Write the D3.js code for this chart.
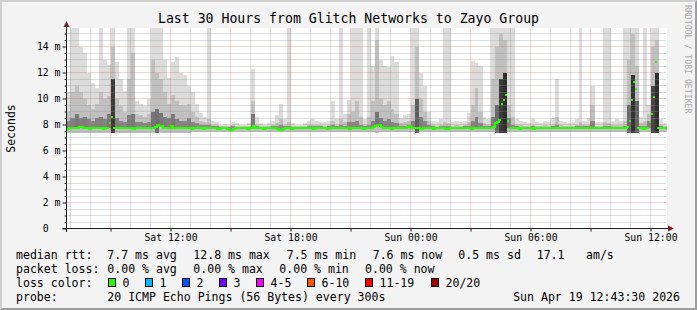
<!DOCTYPE html>
<html>
<head>
<meta charset="utf-8">
<script src="https://cdn.jsdelivr.net/npm/d3@7"></script>
<style>
  html, body { margin: 0; padding: 0; background: #f3f3f3; }
  svg { display: block; font-family: "DejaVu Sans Mono", monospace; }
  text { white-space: pre; }
</style>
</head>
<body>
<svg id="chart" width="697" height="310"></svg>
<script>
// ---- data ----
// smoke columns: one value every 12 minutes, starting Sat 06:48
var startTime = new Date(2026, 3, 18, 6, 48)
var endTime = new Date(2026, 3, 19, 12, 48)
var smokeStepMin = 12
var medianStepMin = 6

var smokeTop = [
  10.5, 15.4, 15.4, 14.0, 13.5, 12.0, 11.2, 10.8, 15.4, 13.0,
  12.6, 15.4, 12.8, 11.5, 10.6, 15.4, 15.4, 9.8, 9.6, 9.4,
  10.0, 15.4, 15.4, 15.4, 13.0, 11.6, 12.8, 13.2, 12.0, 11.8,
  11.0, 10.5, 9.6, 8.9, 8.6, 15.4, 8.3, 8.2, 8.0, 8.05,
  8.0, 8.2, 8.1, 8.0, 8.0, 8.1, 12.3, 8.6, 8.1, 8.0,
  8.1, 8.3, 8.7, 9.6, 8.4, 15.4, 8.1, 8.0, 8.0, 8.1,
  8.3, 8.4, 8.3, 8.2, 8.2, 8.3, 9.8, 8.4, 15.4, 8.8,
  9.9, 15.4, 15.4, 15.4, 8.4, 15.4, 12.5, 15.4, 13.0, 12.5,
  12.4, 13.3, 12.8, 8.5, 8.7, 8.8, 15.4, 15.4, 12.0, 11.0,
  9.0, 8.3, 8.2, 8.4, 15.4, 15.4, 8.2, 8.3, 8.2, 8.3,
  8.9, 12.9, 12.7, 12.5, 8.6, 8.4, 15.4, 15.4, 15.4, 15.4,
  15.4, 15.4, 8.4, 8.3, 8.2, 8.1, 8.4, 8.2, 8.1, 8.3,
  8.2, 8.5, 11.5, 8.3, 8.2, 8.1, 8.2, 8.4, 15.4, 8.3,
  8.5, 11.0, 8.2, 8.2, 15.4, 15.4, 8.3, 8.4, 8.3, 15.4,
  15.4, 15.4, 15.4, 8.6, 15.4, 9.5, 15.4, 15.4, 8.4, 8.1
]

var smokeMid = [
  9.0, 10.5, 11.0, 10.5, 10.0, 9.5, 9.2, 9.6, 10.5, 10.0,
  10.2, 14.0, 10.0, 9.4, 9.0, 11.5, 13.5, 8.8, 8.7, 8.6,
  8.8, 13.0, 12.0, 11.5, 10.5, 9.6, 10.3, 9.8, 9.5, 9.4,
  9.6, 9.0, 8.6, 8.3, 8.2, 8.4, 8.0, 7.95, 7.9, 7.9,
  7.9, 7.95, 7.9, 7.9, 7.9, 7.9, 9.8, 8.0, 7.9, 7.9,
  7.9, 7.95, 8.1, 8.4, 8.0, 8.2, 7.9, 7.9, 7.9, 7.9,
  8.0, 8.0, 7.95, 7.95, 7.9, 7.95, 8.3, 8.0, 8.4, 8.2,
  8.8, 9.0, 9.8, 8.6, 8.0, 8.6, 9.8, 14.5, 10.0, 9.5,
  9.8, 9.2, 8.8, 8.1, 8.2, 8.3, 9.5, 14.0, 10.0, 9.0,
  8.3, 7.95, 7.9, 8.0, 8.2, 8.1, 7.9, 7.95, 7.9, 7.95,
  8.2, 9.5, 10.8, 9.0, 8.1, 8.0, 11.5, 14.0, 15.0, 14.5,
  9.5, 8.6, 8.0, 7.95, 7.9, 7.9, 8.0, 7.9, 7.9, 7.95,
  7.9, 8.0, 8.6, 7.95, 7.9, 7.9, 7.9, 8.0, 8.2, 8.0,
  8.0, 9.5, 7.9, 7.9, 8.2, 8.1, 7.95, 8.0, 7.95, 8.3,
  13.0, 15.0, 12.5, 8.1, 8.3, 8.8, 14.0, 14.5, 8.0, 7.9
]

var smokeCore = [
  8.3, 8.5, 8.8, 8.5, 8.6, 8.4, 8.3, 8.5, 8.6, 8.4,
  8.8, 11.5, 8.5, 8.3, 8.2, 8.7, 8.8, 8.2, 8.2, 8.1,
  8.2, 9.0, 9.2, 8.9, 8.6, 8.5, 8.8, 8.4, 8.3, 8.3,
  8.5, 8.2, 8.1, 8.0, 7.95, 8.0, 7.85, 7.85, 7.8, 7.8,
  7.8, 7.85, 7.8, 7.8, 7.8, 7.8, 8.8, 7.85, 7.8, 7.8,
  7.8, 7.85, 7.9, 8.0, 7.85, 7.9, 7.8, 7.8, 7.8, 7.8,
  7.85, 7.85, 7.85, 7.85, 7.8, 7.85, 7.95, 7.85, 8.0, 7.9,
  8.2, 8.2, 8.3, 8.0, 7.85, 8.0, 8.3, 9.0, 8.5, 8.3,
  8.4, 8.2, 8.1, 7.9, 7.9, 8.0, 8.3, 10.0, 8.6, 8.3,
  8.0, 7.85, 7.8, 7.85, 7.9, 7.85, 7.8, 7.8, 7.8, 7.85,
  7.9, 8.3, 8.6, 8.1, 7.9, 7.85, 8.6, 9.5, 11.5, 12.0,
  8.5, 8.0, 7.85, 7.8, 7.8, 7.8, 7.85, 7.8, 7.8, 7.8,
  7.8, 7.85, 8.0, 7.8, 7.8, 7.8, 7.8, 7.85, 7.9, 7.85,
  7.85, 8.3, 7.8, 7.8, 7.9, 7.85, 7.8, 7.8, 7.8, 7.9,
  9.5, 11.8, 9.8, 7.9, 7.9, 8.3, 11.0, 12.0, 7.85, 7.8
]

var smokeLow = [
  7.35, 7.35, 7.35, 7.35, 7.35, 7.35, 7.35, 7.35, 7.35, 7.35,
  7.35, 7.35, 7.35, 7.35, 7.35, 7.35, 7.35, 7.35, 7.35, 7.35,
  7.35, 7.35, 7.35, 7.35, 7.35, 7.35, 7.35, 7.35, 7.35, 7.35,
  7.35, 7.4, 7.4, 7.45, 7.45, 7.4, 7.45, 7.45, 7.45, 7.45,
  7.45, 7.45, 7.45, 7.45, 7.45, 7.45, 7.4, 7.45, 7.45, 7.45,
  7.45, 7.45, 7.45, 7.45, 7.45, 7.4, 7.45, 7.45, 7.45, 7.45,
  7.45, 7.45, 7.45, 7.45, 7.45, 7.45, 7.45, 7.45, 7.4, 7.45,
  7.4, 7.4, 7.4, 7.4, 7.45, 7.4, 7.4, 7.35, 7.4, 7.4,
  7.4, 7.4, 7.45, 7.45, 7.45, 7.45, 7.4, 7.35, 7.4, 7.45,
  7.45, 7.45, 7.45, 7.45, 7.45, 7.45, 7.45, 7.45, 7.45, 7.45,
  7.45, 7.4, 7.4, 7.4, 7.45, 7.45, 7.4, 7.35, 7.35, 7.35,
  7.4, 7.45, 7.45, 7.45, 7.45, 7.45, 7.45, 7.45, 7.45, 7.45,
  7.45, 7.45, 7.4, 7.45, 7.45, 7.45, 7.45, 7.45, 7.4, 7.45,
  7.45, 7.4, 7.45, 7.45, 7.4, 7.4, 7.45, 7.45, 7.45, 7.4,
  7.35, 7.35, 7.35, 7.45, 7.4, 7.45, 7.35, 7.35, 7.45, 7.45
]

// median rtt, one value every 6 minutes
var medianRtt = [
  7.65, 7.7, 7.7, 7.75, 7.7, 7.7, 7.8, 7.8, 7.75, 7.7, 7.7, 7.65, 7.7, 7.7, 7.75, 7.7, 7.7, 7.7, 7.65, 7.7,
  7.75, 8.1, 8.55, 7.7, 7.7, 7.75, 7.7, 7.7, 7.7, 7.75, 7.7, 7.7, 7.7, 7.65, 7.7, 7.7, 7.75, 7.7, 7.7, 7.7,
  7.7, 7.75, 7.7, 7.7, 7.8, 7.95, 7.9, 7.85, 7.75, 7.7, 7.7, 7.75, 7.9, 7.75, 7.7, 7.7, 7.7, 7.75, 7.7, 7.7,
  7.7, 7.7, 7.65, 7.7, 7.7, 7.7, 7.75, 7.7, 7.65, 7.7, 7.7, 7.7, 7.75, 7.7, 7.7, 7.65, 7.65, 7.7, 7.7, 7.7,
  7.65, 7.6, 7.6, 7.65, 7.7, 7.7, 7.7, 7.75, 7.7, 7.7, 7.65, 7.7, 7.75, 7.9, 7.75, 7.7, 7.7, 7.7, 7.65, 7.7,
  7.7, 7.7, 7.75, 7.7, 7.7, 7.65, 7.6, 7.6, 7.65, 7.7, 7.7, 7.7, 7.65, 7.7, 7.7, 7.7, 7.75, 7.7, 7.7, 7.7,
  7.7, 7.7, 7.7, 7.65, 7.7, 7.7, 7.7, 7.75, 7.7, 7.7, 7.65, 7.7, 7.7, 7.7, 7.7, 7.75, 7.7, 7.7, 7.7, 7.7,
  7.7, 7.65, 7.7, 7.75, 7.7, 7.7, 7.7, 7.7, 7.65, 7.7, 7.7, 7.75, 7.75, 7.8, 7.85, 7.95, 8.0, 7.8, 7.7, 7.7,
  7.7, 7.7, 7.65, 7.7, 7.7, 7.7, 7.75, 7.7, 7.7, 7.7, 7.8, 7.85, 7.75, 7.7, 7.7, 7.7, 7.7, 7.65, 7.7, 7.7,
  7.7, 7.7, 7.7, 7.65, 7.7, 7.7, 7.75, 7.7, 7.7, 7.65, 7.65, 7.7, 7.7, 7.7, 7.7, 7.7, 7.75, 7.7, 7.7, 7.7,
  7.7, 7.7, 7.65, 7.7, 7.7, 7.7, 7.7, 7.75, 7.7, 7.7, 7.7, 7.7, 7.75, 7.8, 8.1, 8.2, 8.35, 9.6, 9.9, 10.3,
  8.3, 7.75, 7.7, 7.7, 7.7, 7.7, 7.65, 7.7, 7.7, 7.7, 7.7, 7.7, 7.7, 7.65, 7.7, 7.7, 7.7, 7.7, 7.7, 7.75,
  7.7, 7.7, 7.7, 7.7, 7.7, 7.75, 7.7, 7.7, 7.7, 7.7, 7.7, 7.7, 7.7, 7.7, 7.7, 7.7, 7.75, 7.75, 7.75, 7.7,
  7.7, 7.7, 7.7, 7.7, 7.7, 7.7, 7.7, 7.7, 7.7, 7.7, 7.7, 7.7, 7.7, 7.7, 7.7, 7.7, 7.7, 7.7, 7.7, 7.75,
  7.8, 8.3, 9.9, 11.3, 10.7, 7.75, 7.7, 7.7, 7.65, 7.7, 7.75, 8.2, 8.8, 10.1, 12.8, 7.75, 7.7, 7.7, 7.7, 7.7
]

var yTicks = [0, 2, 4, 6, 8, 10, 12, 14]

var rttLabel = 'median rtt:'
var rttStats = ['7.7 ms avg', '12.8 ms max', '7.5 ms min', '7.6 ms now', '0.5 ms sd', '17.1', 'am/s']
var lossLabel = 'packet loss:'
var lossStats = ['0.00 % avg', '0.00 % max', '0.00 % min', '0.00 % now']
var colorLabel = 'loss color:'
var lossNames = ['0', '1', '2', '3', '4-5', '6-10', '11-19', '20/20']
var lossColors = ['#26ff00', '#00b8ff', '#0059ff', '#7400ff', '#ff00ff', '#ff5500', '#ff0000', '#a10000']
var probeLabel = 'probe:'
var probeText = '20 ICMP Echo Pings (56 Bytes) every 300s'
var stampText = 'Sun Apr 19 12:43:30 2026'
var titleText = 'Last 30 Hours from Glitch Networks to Zayo Group'

// ---- layout ----
var W = 697, H = 310
var pL = 66.5, pR = 666.5, pT = 28.5, pB = 228.5
var svg = d3.select('#chart')

var x = d3.scaleTime().domain([startTime, endTime]).range([pL, pR])
var y = d3.scaleLinear().domain([0, 200 / 13]).range([pB, pT])
// dense core gets darker the higher it climbs
var coreShade = d3.scaleLinear().domain([8, 12]).range(['#8c8c8c', '#2e2e2e']).clamp(true)

// background + 3d shading
svg.append('rect').attr('width', W).attr('height', H).attr('fill', '#f3f3f3')
svg.append('path').attr('fill', '#cfcfcf')
  .attr('d', 'M0,0H' + W + 'L' + (W - 2) + ',2H2V' + (H - 2) + 'L0,' + H + 'Z')
svg.append('path').attr('fill', '#9e9e9e')
  .attr('d', 'M' + W + ',' + H + 'H0L2,' + (H - 2) + 'H' + (W - 2) + 'V2L' + W + ',0Z')

svg.append('rect')
  .attr('x', 67).attr('y', 28).attr('width', 600).attr('height', 200)
  .attr('fill', '#ffffff')

svg.append('clipPath').attr('id', 'plotclip')
  .append('rect').attr('x', 67).attr('y', 28).attr('width', 600).attr('height', 201)

// ---- smoke ----
var plot = svg.append('g').attr('clip-path', 'url(#plotclip)')
function colX(i) { return Math.round(x(d3.timeMinute.offset(startTime, i * smokeStepMin))) }
function colMedian(i) { return Math.min(medianRtt[2 * i], medianRtt[2 * i + 1]) }
function coreLow(d, i) { return d > 9 ? smokeLow[i] : colMedian(i) }

var layers = [
  { values: smokeTop, fill: function () { return '#dcdcdc' }, low: function (d, i) { return smokeLow[i] } },
  { values: smokeMid, fill: function () { return '#c0c0c0' }, low: function (d, i) { return smokeLow[i] } },
  { values: smokeCore, fill: function (d) { return coreShade(d) }, low: coreLow }
]
layers.forEach(function (layer) {
  plot.append('g').selectAll('rect')
    .data(layer.values)
    .enter()
    .append('rect')
    .attr('x', function (d, i) { return colX(i) })
    .attr('width', function (d, i) { return colX(i + 1) - colX(i) })
    .attr('y', function (d) { return Math.round(y(d)) })
    .attr('height', function (d, i) { return Math.max(0, Math.round(y(layer.low(d, i))) - Math.round(y(d))) })
    .attr('fill', layer.fill)
})

// ---- grid ----
var grid = svg.append('g')
var hours = d3.timeHour.range(d3.timeHour.ceil(startTime), endTime)
var minorY = d3.range(0.5, 15.3, 0.5).filter(function (v) { return v % 2 !== 0 })
var minorCol = 'rgba(143,143,143,0.6)', majorCol = 'rgba(222,80,80,0.5)'

grid.selectAll('.hminor')
  .data(minorY)
  .enter().append('line')
  .attr('x1', pL).attr('x2', pR)
  .attr('y1', function (d) { return Math.floor(y(d)) + 0.5 })
  .attr('y2', function (d) { return Math.floor(y(d)) + 0.5 })
  .attr('stroke', minorCol).attr('stroke-dasharray', '1,1')

grid.selectAll('.vminor')
  .data(hours.filter(function (d) { return d.getHours() % 3 !== 0 }))
  .enter().append('line')
  .attr('x1', function (d) { return x(d) }).attr('x2', function (d) { return x(d) })
  .attr('y1', pT).attr('y2', pB)
  .attr('stroke', minorCol).attr('stroke-dasharray', '1,1')

grid.selectAll('.hmajor')
  .data(yTicks.slice(1))
  .enter().append('line')
  .attr('x1', pL).attr('x2', pR)
  .attr('y1', function (d) { return Math.floor(y(d)) + 0.5 })
  .attr('y2', function (d) { return Math.floor(y(d)) + 0.5 })
  .attr('stroke', majorCol).attr('stroke-dasharray', '1,1')

grid.selectAll('.vmajor')
  .data(hours.filter(function (d) { return d.getHours() % 3 === 0 }))
  .enter().append('line')
  .attr('x1', function (d) { return x(d) }).attr('x2', function (d) { return x(d) })
  .attr('y1', pT).attr('y2', pB)
  .attr('stroke', majorCol).attr('stroke-dasharray', '1,1')

// ---- median line (green, broken on big jumps) ----
var medPts = medianRtt.map(function (v, j) {
  return { t: d3.timeMinute.offset(startTime, j * medianStepMin), v: v }
})
var segs = [], cur = []
medPts.forEach(function (p) {
  if (cur.length && Math.abs(p.v - cur[cur.length - 1].v) > 0.3) { segs.push(cur); cur = [] }
  cur.push(p)
})
segs.push(cur)
var medLine = d3.line()
  .x(function (d) { return Math.round(x(d.t)) })
  .y(function (d) { return Math.round(y(d.v)) })
  .curve(d3.curveStepAfter)
plot.selectAll('.median')
  .data(segs)
  .enter().append('path')
  .attr('d', function (s) {
    var last = s[s.length - 1]
    return medLine(s.concat([{ t: d3.timeMinute.offset(last.t, medianStepMin), v: last.v }]))
  })
  .attr('fill', 'none')
  .attr('stroke', '#26ff00')
  .attr('stroke-width', 2)

// ---- axes ----
var axisCol = '#1f1f1f'
svg.append('g').attr('transform', 'translate(' + pL + ',0)')
  .call(d3.axisLeft(y).tickValues(yTicks).tickSize(4).tickPadding(2)
    .tickFormat(function (d) { return d === 0 ? ' 0  ' : d3.format('2d')(d) + ' m' }))
svg.append('g').attr('transform', 'translate(' + pL + ',0)')
  .call(d3.axisLeft(y).tickValues(minorY).tickSize(2).tickFormat(''))

svg.append('g').attr('transform', 'translate(0,' + pB + ')')
  .call(d3.axisBottom(x).tickValues(hours.filter(function (d) { return d.getHours() % 3 === 0 }))
    .tickSize(3).tickFormat(''))
svg.append('g').attr('transform', 'translate(0,' + pB + ')')
  .call(d3.axisBottom(x).tickValues(hours.filter(function (d) { return d.getHours() % 6 === 0 }))
    .tickSize(0).tickPadding(6).tickFormat(d3.timeFormat('%a %H:%M')))

svg.selectAll('.domain').remove()
svg.selectAll('.tick line').attr('stroke', axisCol)
svg.selectAll('.tick text')
  .attr('font-family', '"DejaVu Sans Mono", monospace')
  .attr('font-size', '9.8px')
  .attr('fill', '#000')

// axis lines + arrows
svg.append('line').attr('x1', pL).attr('x2', pL).attr('y1', pB + 3.5).attr('y2', 26)
  .attr('stroke', axisCol)
svg.append('line').attr('x1', pL - 4).attr('x2', 669).attr('y1', pB).attr('y2', pB)
  .attr('stroke', axisCol)
svg.append('path').attr('fill', '#801f1f')
  .attr('d', 'M' + pL + ',21L' + (pL - 3) + ',27H' + (pL + 3) + 'Z')
svg.append('path').attr('fill', '#801f1f')
  .attr('d', 'M674,' + pB + 'L668,' + (pB - 3) + 'V' + (pB + 3) + 'Z')

// ---- titles ----
svg.append('text').attr('x', 348.5).attr('y', 23)
  .attr('text-anchor', 'middle').attr('font-size', '13.2px').text(titleText)
svg.append('text').attr('transform', 'translate(15,128.5) rotate(-90)')
  .attr('text-anchor', 'middle').attr('font-size', '11.5px').text('Seconds')
svg.append('text').attr('transform', 'translate(684.5,5) rotate(90)')
  .attr('font-size', '8.2px').attr('fill', '#a8a8a8').text('RRDTOOL / TOBI OETIKER')

// ---- legend ----
var legend = svg.append('g').attr('font-size', '11.55px').attr('fill', '#000')
var rows = [258.5, 272.5, 286.5, 300.5]
var statX = [107.3, 193.3, 286.7, 372.7, 458.3, 536.7, 586]
var lossX = [107.3, 193.3, 279.3, 365]
var boxX = [108.5, 145.5, 182.5, 219.5, 256.5, 307.5, 365.5, 431.5]

legend.append('text').attr('x', 16).attr('y', rows[0]).text(rttLabel)
legend.selectAll('.rtt').data(rttStats).enter().append('text')
  .attr('x', function (d, i) { return statX[i] }).attr('y', rows[0]).text(function (d) { return d })

legend.append('text').attr('x', 16).attr('y', rows[1]).text(lossLabel)
legend.selectAll('.loss').data(lossStats).enter().append('text')
  .attr('x', function (d, i) { return lossX[i] }).attr('y', rows[1]).text(function (d) { return d })

legend.append('text').attr('x', 16).attr('y', rows[2]).text(colorLabel)
legend.selectAll('.lbox').data(lossColors).enter().append('rect')
  .attr('x', function (d, i) { return boxX[i] }).attr('y', 278.5)
  .attr('width', 7).attr('height', 8)
  .attr('fill', function (d) { return d }).attr('stroke', '#000')
legend.selectAll('.lname').data(lossNames).enter().append('text')
  .attr('x', function (d, i) { return boxX[i] + 14 }).attr('y', rows[2]).text(function (d) { return d })

legend.append('text').attr('x', 16).attr('y', rows[3]).text(probeLabel)
legend.append('text').attr('x', 107.3).attr('y', rows[3]).text(probeText)
legend.append('text').attr('x', 680).attr('y', rows[3]).attr('text-anchor', 'end').text(stampText)
</script>
</body>
</html>
